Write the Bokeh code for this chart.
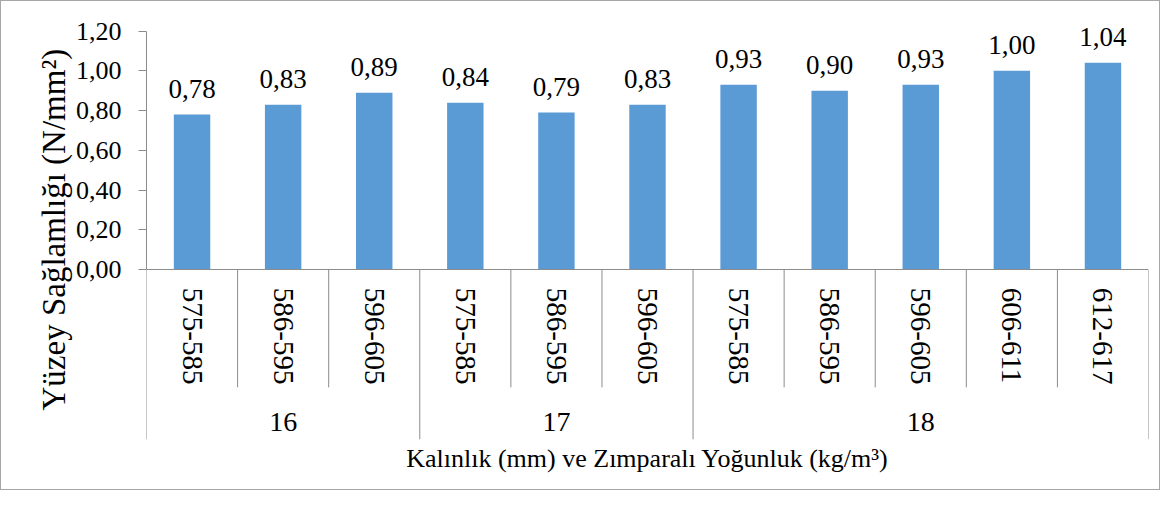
from bokeh.plotting import figure
from bokeh.models import (LinearAxis, FixedTicker, CustomJSTickFormatter, ColumnDataSource,
                          Range1d, Title)
from bokeh.core.properties import value
from bokeh.embed import file_html
from bokeh.resources import INLINE

# ---- data ----
groups = ["16", "17", "18"]
group_sizes = [3, 3, 5]
densities = ["575-585", "586-595", "596-605",
             "575-585", "586-595", "596-605",
             "575-585", "586-595", "596-605", "606-611", "612-617"]
values = [0.78, 0.83, 0.89, 0.84, 0.79, 0.83, 0.93, 0.90, 0.93, 1.00, 1.04]
y_ticks = [0.0, 0.2, 0.4, 0.6, 0.8, 1.0, 1.2]
y_title = "Yüzey Sağlamlığı (N/mm²)"
x_title = "Kalınlık (mm) ve Zımparalı Yoğunluk (kg/m³)"

FONT = "Liberation Serif"
BAR = "#5B9BD5"
GRID = "#8c8c8c"

n = len(values)
centers = [i + 0.5 for i in range(n)]
labels = [f"{v:.2f}".replace(".", ",") for v in values]

# table geometry (data units below zero)
INNER_BOTTOM = -0.591
GROUP_LABEL_Y = -0.765
Y_START, Y_END = -0.853, 1.273

p = figure(width=1160, height=490, output_backend="svg", toolbar_location=None,
           x_range=Range1d(0, n), y_range=Range1d(Y_START, Y_END),
           min_border_left=145, min_border_right=13, min_border_top=15, min_border_bottom=52,
           outline_line_color=None)
p.styles = {"border": "1px solid #a6a6a6"}
p.grid.visible = False

src = ColumnDataSource(dict(x=centers, top=values, lab=labels))
p.vbar(x="x", top="top", bottom=0, width=0.4, fill_color=BAR, line_color=None, source=src)
p.text(x="x", y="top", text="lab", source=src, text_font=value(FONT), text_font_size="27px",
       text_align="center", text_baseline="bottom", y_offset=-17, text_color="black")

# category table separators
starts = []
acc = 0
for s in group_sizes:
    starts.append(acc)
    acc += s
group_bounds = starts + [acc]
inner_bounds = [b for b in range(1, n) if b not in group_bounds]
p.segment(x0=inner_bounds, y0=[0] * len(inner_bounds), x1=inner_bounds,
          y1=[INNER_BOTTOM] * len(inner_bounds), line_color=GRID, line_width=1)
p.segment(x0=group_bounds, y0=[0] * len(group_bounds), x1=group_bounds,
          y1=[Y_START] * len(group_bounds), line_color=GRID, line_width=1)
group_centers = [st + sz / 2 for st, sz in zip(starts, group_sizes)]
p.text(x=group_centers, y=[GROUP_LABEL_Y] * len(groups), text=groups,
       text_font=value(FONT), text_font_size="28px", text_align="center",
       text_baseline="middle", text_color="black")

# x category axis fixed at y=0
xa = p.xaxis[0]
xa.fixed_location = 0
xa.ticker = FixedTicker(ticks=centers)
xa.major_label_overrides = {c: d for c, d in zip(centers, densities)}
xa.major_label_orientation = "vertical"
xa.major_label_text_font = FONT
xa.major_label_text_font_size = "29px"
xa.major_label_text_color = "black"
xa.major_label_standoff = 18
xa.major_tick_out = 0
xa.major_tick_in = 0
xa.minor_tick_out = 0
xa.minor_tick_in = 0
xa.axis_line_color = GRID

# x title axis
xt = LinearAxis(ticker=FixedTicker(ticks=[]), axis_line_color=None, major_tick_out=0,
                minor_tick_out=0, axis_label=x_title, axis_label_text_font=FONT,
                axis_label_text_font_size="26px", axis_label_text_font_style="normal",
                axis_label_text_color="black", axis_label_standoff=4)
p.add_layout(xt, "below")

# y axis
ya = p.yaxis[0]
ya.bounds = (0, 1.2)
ya.ticker = FixedTicker(ticks=y_ticks)
ya.formatter = CustomJSTickFormatter(code="return tick.toFixed(2).replace('.', ',');")
ya.major_label_text_font = FONT
ya.major_label_text_font_size = "26px"
ya.major_label_text_color = "black"
ya.major_tick_out = 8
ya.major_tick_in = 0
ya.minor_tick_out = 0
ya.minor_tick_in = 0
ya.major_tick_line_color = GRID
ya.axis_line_color = GRID
ya.major_label_standoff = 17

# y title as a side title, positioned along the left panel
yt = Title(text=y_title, align="left", offset=29, text_font=FONT, text_font_size="33px",
           text_font_style="normal", text_color="black", standoff=2)
p.add_layout(yt, "left")

open("out.html", "w").write(file_html(p, INLINE))
